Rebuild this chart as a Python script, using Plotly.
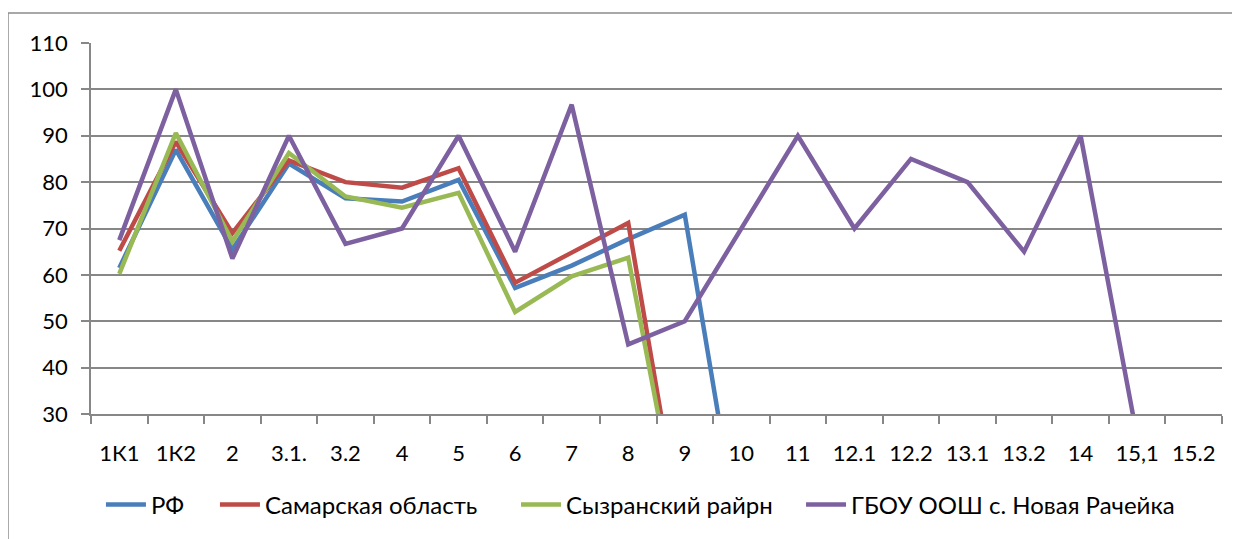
import plotly.graph_objects as go

categories = ["1К1", "1К2", "2", "3.1.", "3.2", "4", "5", "6", "7", "8",
              "9", "10", "11", "12.1", "12.2", "13.1", "13.2", "14", "15,1", "15.2"]
rf = [61.5, 87, 65.5, 84, 76.5, 75.8, 80.5, 57.2, 62, 67.7,
      73, 0, None, None, None, None, None, None, None, None]
samara = [65.2, 88.7, 69, 84.7, 80, 78.8, 83, 58.3, 64.8, 71.2,
          0, None, None, None, None, None, None, None, None, None]
syzran = [60.2, 90.6, 67.2, 86.3, 76.9, 74.5, 77.7, 52, 59.7, 63.7,
          0, None, None, None, None, None, None, None, None, None]
school = [67.5, 100, 63.5, 90, 66.7, 70, 90, 65, 96.7, 45,
          50, 70, 90, 70, 85, 80, 65, 90, 25, None]

series = [
    ("РФ", rf, "#4A7EBB"),
    ("Самарская область", samara, "#BE4B48"),
    ("Сызранский райрн", syzran, "#98B954"),
    ("ГБОУ ООШ с. Новая Рачейка", school, "#7D60A0"),
]
legend_ids = ["legend", "legend2", "legend3", "legend4"]
legend_x = [0.0088, 0.1096, 0.3758, 0.6278]

fig = go.Figure()
for (name, vals, col), lid in zip(series, legend_ids):
    fig.add_trace(go.Scatter(x=categories, y=vals, name=name, mode="lines",
                             line=dict(color=col, width=4.5), connectgaps=False,
                             legend=lid))

grid = "#878787"
legend_common = dict(orientation="h", xanchor="left", y=-0.245, yanchor="middle",
                     font=dict(size=24), itemwidth=40, bgcolor="rgba(0,0,0,0)")
layout_legends = {lid: dict(legend_common, x=lx) for lid, lx in zip(legend_ids, legend_x)}

fig.update_layout(
    width=1232, height=531,
    margin=dict(l=83, r=18, t=35, b=125),
    paper_bgcolor="white", plot_bgcolor="white",
    font=dict(family="Lato, Carlito, Calibri, sans-serif", size=22, color="black"),
    showlegend=True,
    xaxis=dict(type="category", showgrid=False, showline=True, linecolor=grid, linewidth=1.5,
               ticks="outside", ticklen=8, tickcolor=grid, tickwidth=1.5,
               tickson="boundaries", ticklabelstandoff=19, range=[-0.5, 19.5]),
    yaxis=dict(range=[30, 110], dtick=10, showgrid=True, gridcolor=grid, gridwidth=1.5,
               showline=True, linecolor=grid, linewidth=1.5, ticks="outside", ticklen=8,
               tickcolor=grid, tickwidth=1.5, zeroline=False, ticklabelstandoff=9),
    shapes=[dict(type="rect", xref="paper", yref="paper", x0=-0.0734, x1=1.2,
                 y0=-0.6, y1=1.0809, line=dict(color="#8c8c8c", width=1.5),
                 fillcolor="rgba(0,0,0,0)", layer="below")],
    **layout_legends,
)

fig.write_html("out.html")
